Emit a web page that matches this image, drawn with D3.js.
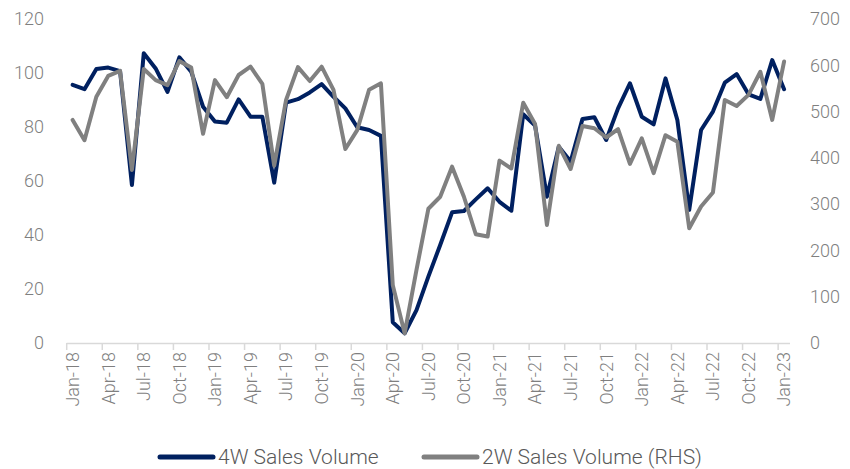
<!DOCTYPE html>
<html>
<head>
<meta charset="utf-8">
<script src="https://cdn.jsdelivr.net/npm/d3@7"></script>
<style>
  body { margin: 0; background: #fff; }
  text { font-family: Roboto, "Liberation Sans", sans-serif; font-weight: 300; }
</style>
</head>
<body>
<svg width="850" height="469"></svg>
<script>
// monthly, Jan-18 .. Jan-23
var months = d3.timeMonths(new Date(2018, 0, 1), new Date(2023, 1, 1));

var sales4w = [
  95.6, 94, 101.5, 102, 100.7, 58.5, 107.3, 101.7, 93, 105.8, 100.5, 87.5,
  82, 81.6, 90.2, 83.8, 83.8, 59.4, 89, 90.3, 92.8, 95.9, 91.2, 86.9,
  79.9, 78.9, 76.7, 7.7, 3.6, 12.2, 24.6, 36.3, 48.4, 48.9, 53.2, 57.3,
  52.3, 49, 84.7, 80.5, 54.2, 72.7, 67.2, 83, 83.6, 75.2, 86.9, 96.2,
  83.8, 81, 98, 82.6, 49.3, 78.9, 85.7, 96.4, 99.6, 92.1, 90.4, 104.8,
  94
];

var sales2w = [
  482, 438, 532, 577, 588, 374, 592, 568, 557, 609, 595, 452,
  568, 531, 579, 597, 560, 383, 525, 596, 566, 597, 547, 419,
  460, 547, 561, 125, 21, 158, 290, 316, 381, 316, 235, 230,
  394, 377, 519, 473, 255, 426, 376, 469, 464, 444, 462, 387,
  442, 367, 449, 435, 248, 295, 325, 525, 512, 536, 586, 482,
  608
];

var leftTicks = [0, 20, 40, 60, 80, 100, 120];
var rightTicks = [0, 100, 200, 300, 400, 500, 600, 700];
var tickLabels = ["Jan-18", "Apr-18", "Jul-18", "Oct-18", "Jan-19", "Apr-19", "Jul-19", "Oct-19",
  "Jan-20", "Apr-20", "Jul-20", "Oct-20", "Jan-21", "Apr-21", "Jul-21", "Oct-21",
  "Jan-22", "Apr-22", "Jul-22", "Oct-22", "Jan-23"];

var seriesNames = ["4W Sales Volume", "2W Sales Volume (RHS)"];
var colors = ["#002060", "#808080"];

var svg = d3.select('svg');

var xScale = d3.scaleBand()
  .domain(d3.range(months.length))
  .range([66.7, 790])
  .padding(0);

var yLeft = d3.scaleLinear().domain([0, 120]).range([343, 19]);
var yRight = d3.scaleLinear().domain([0, 700]).range([343, 19]);

var half = xScale.bandwidth() / 2;
var tickIdx = d3.range(0, months.length, 3);

// x axis line + tick marks at month boundaries
svg.append('line')
  .attr('x1', xScale.range()[0]).attr('x2', xScale.range()[1])
  .attr('y1', 343.5).attr('y2', 343.5)
  .attr('stroke', '#d9d9d9').attr('stroke-width', 1.5);

svg.selectAll('.xtick')
  .data(tickIdx)
  .enter().append('line')
  .attr('class', 'xtick')
  .attr('x1', function(d) { return xScale(d); })
  .attr('x2', function(d) { return xScale(d); })
  .attr('y1', 343).attr('y2', 350)
  .attr('stroke', '#d9d9d9').attr('stroke-width', 1.5);

// x labels, centred in the month
var xAxis = d3.axisBottom(xScale)
  .tickValues(tickIdx)
  .tickSize(0)
  .tickFormat(function(d, i) { return tickLabels[i]; });

var gx = svg.append('g')
  .attr('transform', 'translate(0,343)')
  .call(xAxis);
gx.select('.domain').remove();
gx.selectAll('text')
  .attr('transform', 'rotate(-90)')
  .attr('text-anchor', 'end')
  .attr('x', -9)
  .attr('y', 0)
  .attr('dy', '0.35em')
  .attr('fill', '#7f7f7f')
  .style('font-size', '18px')
  .style('font-family', 'Roboto, sans-serif')
  .style('font-weight', 300);

// left axis
var gl = svg.append('g')
  .attr('transform', 'translate(44,0)')
  .call(d3.axisLeft(yLeft).tickValues(leftTicks).tickSize(0).tickPadding(0));
gl.select('.domain').remove();
gl.selectAll('text')
  .attr('fill', '#7f7f7f')
  .style('font-size', '18px')
  .style('font-family', 'Roboto, sans-serif')
  .style('font-weight', 300);

// right axis
var gr = svg.append('g')
  .attr('transform', 'translate(810,0)')
  .call(d3.axisRight(yRight).tickValues(rightTicks).tickSize(0).tickPadding(0));
gr.select('.domain').remove();
gr.selectAll('text')
  .attr('fill', '#7f7f7f')
  .style('font-size', '18px')
  .style('font-family', 'Roboto, sans-serif')
  .style('font-weight', 300);

// lines
var line4w = d3.line()
  .x(function(d, i) { return xScale(i) + half; })
  .y(function(d) { return yLeft(d); });

var line2w = d3.line()
  .x(function(d, i) { return xScale(i) + half; })
  .y(function(d) { return yRight(d); });

svg.append('path')
  .datum(sales4w)
  .attr('d', line4w)
  .attr('fill', 'none')
  .attr('stroke', colors[0])
  .attr('stroke-width', 4)
  .attr('stroke-linejoin', 'round')
  .attr('stroke-linecap', 'round');

svg.append('path')
  .datum(sales2w)
  .attr('d', line2w)
  .attr('fill', 'none')
  .attr('stroke', colors[1])
  .attr('stroke-width', 4)
  .attr('stroke-linejoin', 'round')
  .attr('stroke-linecap', 'round');

// legend
var legendX = [160, 424];
var legend = svg.selectAll('.legend')
  .data(seriesNames)
  .enter().append('g')
  .attr('class', 'legend')
  .attr('transform', function(d, i) { return 'translate(' + legendX[i] + ',457)'; });

legend.append('line')
  .attr('x1', 0).attr('x2', 53)
  .attr('y1', 0).attr('y2', 0)
  .attr('stroke', function(d, i) { return colors[i]; })
  .attr('stroke-width', 5)
  .attr('stroke-linecap', 'round');

legend.append('text')
  .attr('x', 58)
  .attr('y', 0)
  .attr('dy', '0.35em')
  .attr('fill', '#595959')
  .style('font-size', '21px')
  .text(function(d) { return d; });
</script>
</body>
</html>
